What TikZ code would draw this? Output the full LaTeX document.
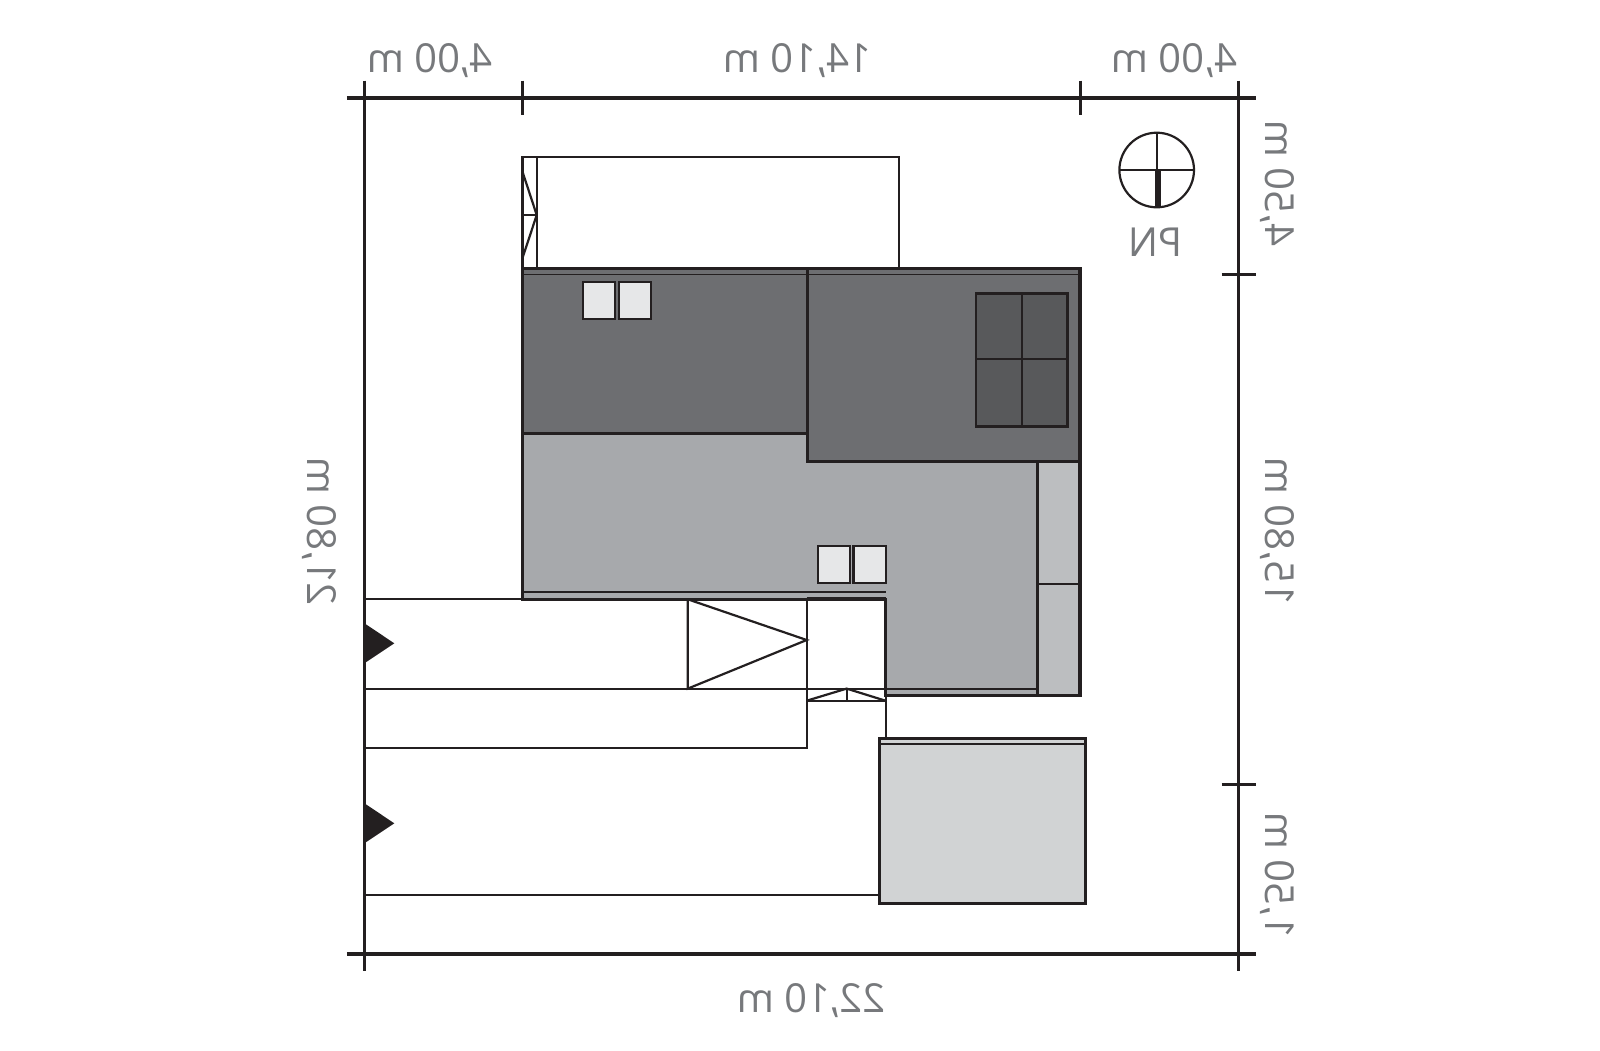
\documentclass[tikz,border=0pt]{standalone}
\usepackage{fontspec}
\setmainfont{Open Sans}
\definecolor{inkline}{HTML}{231F20}
\definecolor{dimtext}{HTML}{77797C}
\definecolor{roofdark}{HTML}{6D6E71}
\definecolor{rooflight}{HTML}{A7A9AC}
\definecolor{roofstrip}{HTML}{BCBEC0}
\definecolor{roofgarage}{HTML}{D1D3D4}
\definecolor{winlight}{HTML}{E6E7E8}
\definecolor{windark}{HTML}{58595B}
\tikzset{
  dimline/.style={draw=inkline, line width=3.1pt},
  thinline/.style={draw=inkline, line width=2.2pt},
  roofline/.style={draw=inkline, line width=3.4pt},
  eaveline/.style={draw=inkline, line width=1.6pt},
  dimlabel/.style={text=dimtext, inner sep=0pt, anchor=base, transform shape,
    font=\fontsize{40}{40}\selectfont},
  dimflat/.style={dimlabel, xscale=-1},
  dimup/.style={dimlabel, xscale=-1, rotate=90}
}
\begin{document}
\begin{tikzpicture}[x=1pt, y=-1pt]
  \useasboundingbox (0,0) rectangle (1600,1050);

  %% paths and terrace outlines
  \draw[thinline] (522.5,156.7) rectangle (899,268.3);
  \draw[thinline] (536.7,156.7) -- (536.7,268.3);
  \draw[thinline] (522.5,171.7) -- (536.7,215) -- (522.5,258);
  \draw[thinline] (522.5,215) -- (536.7,215);
  \draw[thinline] (364.4,599.3) -- (885.5,599.3);
  \draw[thinline] (364.4,688.6) -- (885.5,688.6);
  \draw[thinline] (364.4,748) -- (806.7,748) -- (806.7,599.3);
  \draw[thinline] (364.4,895) -- (880,895);
  \draw[thinline, line width=1.9pt] (886,688.6) -- (886,738.3);
  \draw[thinline] (687.8,599.3) -- (687.8,688.6) -- (806.7,640) -- cycle;

  %% small porch roof
  \draw[thinline] (806.7,700.7) -- (885.5,700.7);
  \draw[thinline] (806.7,700.7) -- (846.6,688.6) -- (885.5,700.7);
  \draw[thinline] (846.6,688.6) -- (846.6,700.7);

  %% light roof
  \filldraw[fill=rooflight, roofline] (522.5,433.3) -- (807.2,433.3) -- (807.2,461.7)
    -- (1037.5,461.7) -- (1037.5,695.5) -- (885.5,695.5) -- (885.5,599.3) -- (522.5,599.3) -- cycle;
  \draw[eaveline] (522.5,592) -- (885.5,592);
  \draw[eaveline] (885.5,689) -- (1037.5,689);
  \draw[roofline] (806.7,598.7) -- (885.5,598.7);

  %% strip along the wall
  \filldraw[fill=roofstrip, roofline] (1037.5,461.7) rectangle (1079.8,695.5);
  \draw[thinline] (1037.5,584) -- (1079.8,584);

  %% dark roofs
  \filldraw[fill=roofdark, roofline] (522.5,268.3) rectangle (807.2,433.3);
  \filldraw[fill=roofdark, roofline] (807.2,268.3) rectangle (1079.8,461.7);
  \draw[eaveline] (522.5,274.5) -- (1079.8,274.5);

  %% skylights
  \filldraw[fill=windark, thinline, line width=2.7pt] (976,293.3) rectangle (1067.3,426.7);
  \draw[thinline] (1021.7,293.3) -- (1021.7,426.7);
  \draw[thinline] (976,359.3) -- (1067.3,359.3);
  \filldraw[fill=winlight, thinline] (582.6,281.7) rectangle (615.1,319);
  \filldraw[fill=winlight, thinline] (618.9,281.7) rectangle (650.7,319);
  \filldraw[fill=winlight, thinline] (817.9,546) rectangle (849.7,583.3);
  \filldraw[fill=winlight, thinline] (853.5,546) rectangle (885.7,583.3);

  %% garage
  \filldraw[fill=roofgarage, roofline] (879.3,738.3) rectangle (1085.4,903.3);
  \draw[eaveline] (879.3,744) -- (1085.4,744);

  %% dimension lines
  \draw[dimline] (346.8,98) -- (1256,98);
  \draw[dimline] (346.8,954) -- (1256,954);
  \draw[dimline] (364.4,80.7) -- (364.4,970.7);
  \draw[dimline] (1238.7,80.7) -- (1238.7,970.7);
  \draw[dimline] (522.5,80.7) -- (522.5,115);
  \draw[dimline] (1080.5,80.7) -- (1080.5,115);
  \draw[dimline] (1221.5,274.7) -- (1256,274.7);
  \draw[dimline] (1221.5,784.3) -- (1256,784.3);

  %% entrance marks
  \fill[inkline] (364.4,623.3) -- (394.3,643.3) -- (364.4,663.3) -- cycle;
  \fill[inkline] (364.4,803.3) -- (394.3,823.3) -- (364.4,843.3) -- cycle;

  %% north sign
  \draw[thinline] (1156.7,170) circle (37.3);
  \draw[thinline] (1119.4,170) -- (1194,170);
  \draw[thinline] (1156.7,132.7) -- (1156.7,170);
  \fill[inkline] (1155,170) rectangle (1161,206.5);
  \node[dimflat] (northlabel) at (1155.5,256.7) {PN};

  %% dimensions
  \node[dimflat] (topleft) at (429.8,72.7) {4,00 m};
  \node[dimflat] (topmid) at (797.5,72.7) {14,10 m};
  \node[dimflat] (topright) at (1174,72.7) {4,00 m};
  \node[dimflat] (bottom) at (811.3,1012) {22,10 m};
  \node[dimup] (left) at (307.5,531.5) {21,80 m};
  \node[dimup] (righttop) at (1265,183) {4,50 m};
  \node[dimup] (rightmid) at (1265,531.5) {15,80 m};
  \node[dimup] (rightlow) at (1265.5,875) {1,50 m};
\end{tikzpicture}
\end{document}
